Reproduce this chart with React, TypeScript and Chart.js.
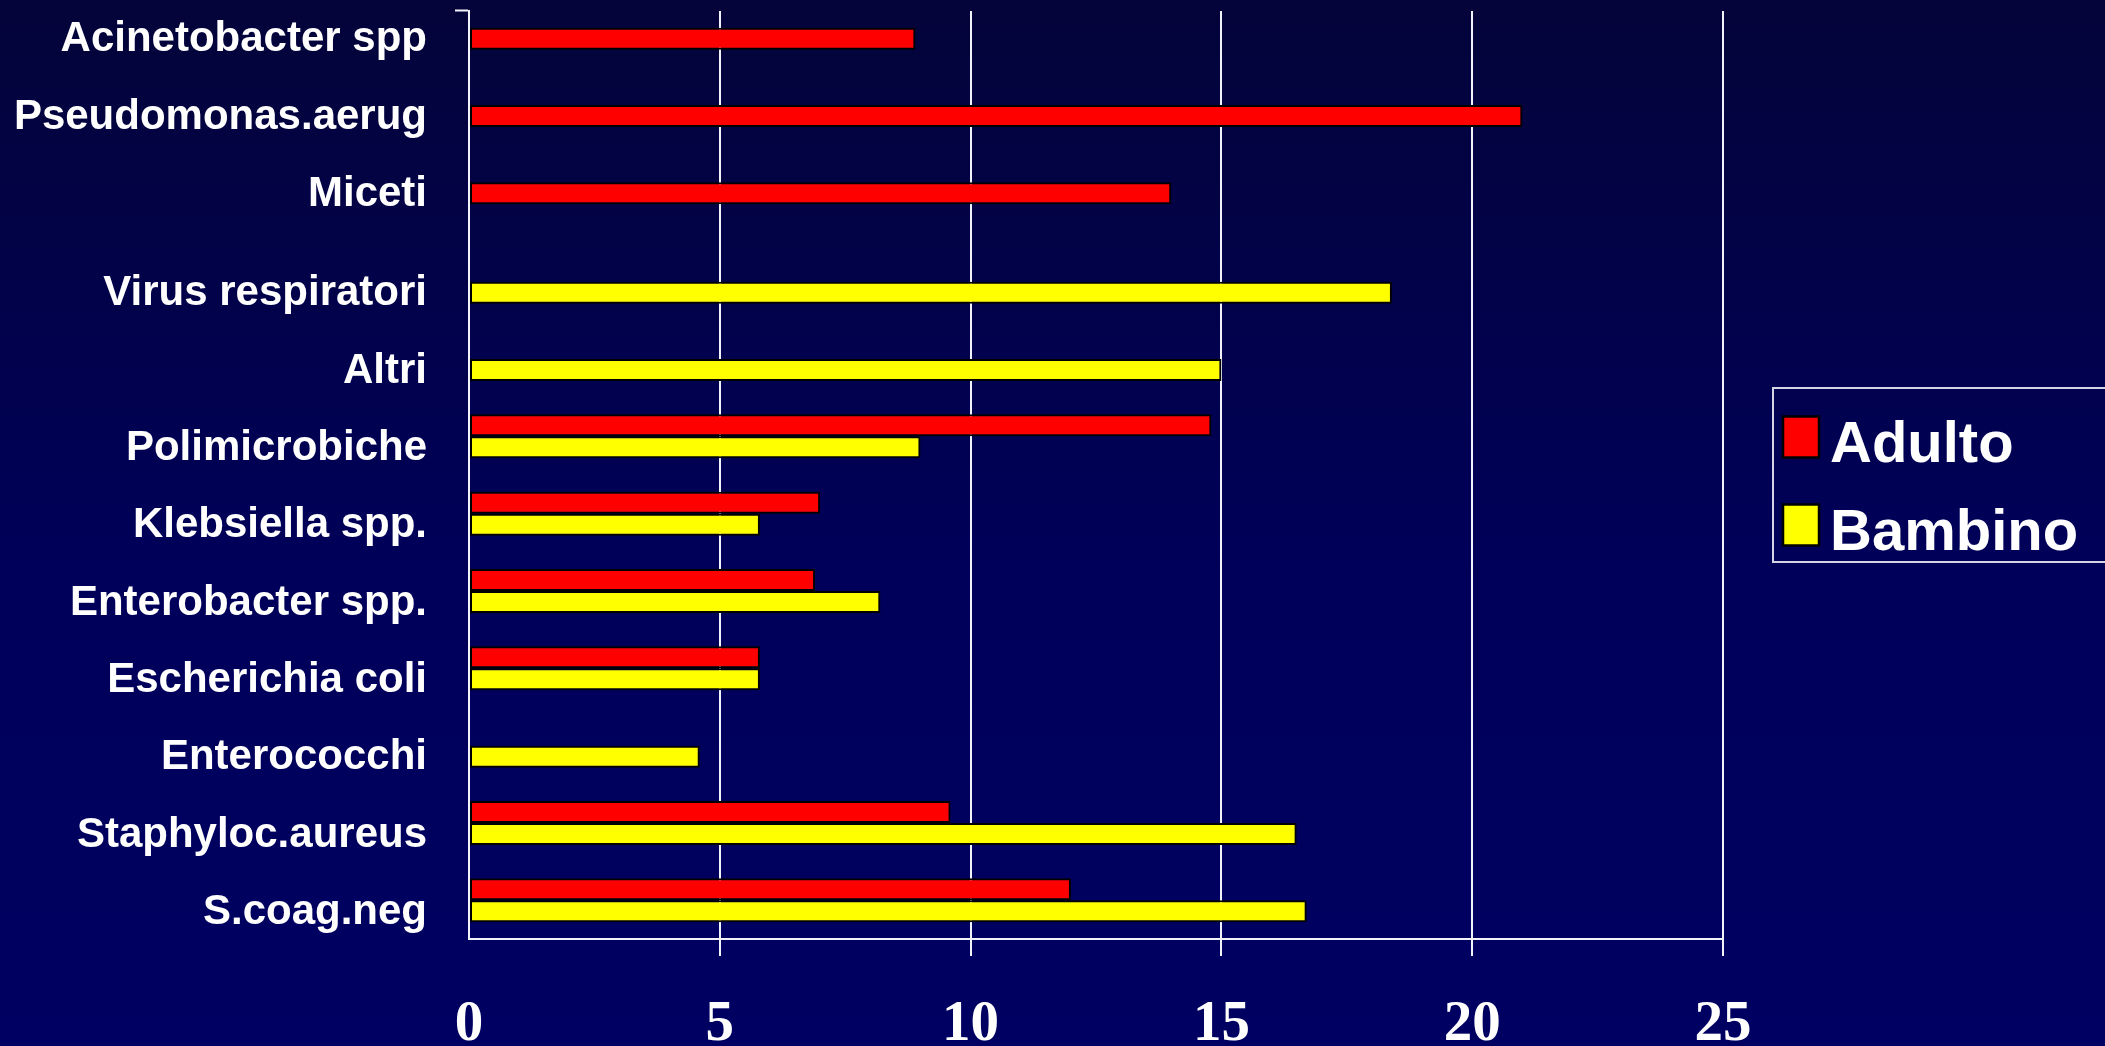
import React, { useEffect, useRef } from "react";
import { Chart, registerables } from "chart.js";

Chart.register(...registerables);

// Categories, listed top to bottom
const categories = [
  "Acinetobacter spp",
  "Pseudomonas.aerug",
  "Miceti",
  "Virus respiratori",
  "Altri",
  "Polimicrobiche",
  "Klebsiella spp.",
  "Enterobacter spp.",
  "Escherichia coli",
  "Enterococchi",
  "Staphyloc.aureus",
  "S.coag.neg",
];

const seriesNames = ["Adulto", "Bambino"];

const adulto: (number | null)[] = [8.9, 21, 14, null, null, 14.8, 7, 6.9, 5.8, null, 9.6, 12];
const bambino: (number | null)[] = [null, null, null, 18.4, 15, 9, 5.8, 8.2, 5.8, 4.6, 16.5, 16.7];

const xTicks = [0, 5, 10, 15, 20, 25];

const W = 2105;
const H = 1046;
const LABEL_FONT = '"Liberation Sans", Arial, sans-serif';
const TICK_FONT = '"Liberation Serif", "Times New Roman", serif';
const LINE_COLOR = "#f2f2fa";

// Navy gradient behind the whole canvas
const backgroundPlugin = {
  id: "slideBackground",
  beforeDraw(chart: Chart) {
    const { ctx, width, height } = chart;
    const g = ctx.createLinearGradient(0, 0, 0, height);
    g.addColorStop(0, "#04043a");
    g.addColorStop(0.55, "#00005a");
    g.addColorStop(1, "#000062");
    ctx.save();
    ctx.fillStyle = g;
    ctx.fillRect(0, 0, width, height);
    ctx.restore();
  },
};

// Category names, aligned with the Bambino bar (or the Adulto bar when it is alone)
const categoryLabelPlugin = {
  id: "categoryLabels",
  afterDatasetsDraw(chart: Chart) {
    const { ctx, chartArea } = chart;
    const metaA = chart.getDatasetMeta(0);
    const metaB = chart.getDatasetMeta(1);
    ctx.save();
    ctx.fillStyle = "#ffffff";
    ctx.font = `bold 42px ${LABEL_FONT}`;
    ctx.textAlign = "right";
    ctx.textBaseline = "middle";
    categories.forEach((name, i) => {
      const el: any = bambino[i] != null ? metaB.data[i] : metaA.data[i];
      if (!el) return;
      ctx.fillText(name, chartArea.left - 42, el.y + 1);
    });
    ctx.restore();
  },
};

// Boxed legend to the right of the plot
const legendBoxPlugin = {
  id: "legendBox",
  afterDraw(chart: Chart) {
    const { ctx, chartArea } = chart;
    const cy = (chartArea.top + chartArea.bottom) / 2;
    const left = chartArea.right + 50;
    const top = cy - 87;
    const h = 174;
    ctx.save();
    ctx.strokeStyle = "#d4d4e4";
    ctx.lineWidth = 2;
    ctx.strokeRect(left, top, chart.width - left + 10, h);
    chart.data.datasets.forEach((ds: any, i: number) => {
      const rowY = top + 49 + i * 88;
      ctx.fillStyle = ds.backgroundColor;
      ctx.fillRect(left + 10, rowY - 20.5, 36, 41);
      ctx.strokeStyle = "#000000";
      ctx.lineWidth = 2.5;
      ctx.strokeRect(left + 10, rowY - 20.5, 36, 41);
      ctx.fillStyle = "#ffffff";
      ctx.font = `bold 58px ${LABEL_FONT}`;
      ctx.textAlign = "left";
      ctx.textBaseline = "alphabetic";
      ctx.fillText(ds.label, left + 57, rowY + 25);
    });
    ctx.restore();
  },
};

export default function App() {
  const canvasRef = useRef<HTMLCanvasElement>(null);

  useEffect(() => {
    const canvas = canvasRef.current;
    if (!canvas) return;

    const chart = new Chart(canvas, {
      type: "bar",
      data: {
        labels: categories,
        datasets: [
          {
            label: seriesNames[0],
            data: adulto,
            backgroundColor: "#ff0000",
            borderColor: "#000000",
            borderWidth: 2,
            borderSkipped: false,
            barPercentage: 1,
            categoryPercentage: 0.57,
          },
          {
            label: seriesNames[1],
            data: bambino,
            backgroundColor: "#ffff00",
            borderColor: "#000000",
            borderWidth: 2,
            borderSkipped: false,
            barPercentage: 1,
            categoryPercentage: 0.57,
          },
        ],
      },
      options: {
        indexAxis: "y",
        responsive: false,
        animation: false,
        layout: { padding: { top: 11, right: 382, left: 0, bottom: 0 } },
        plugins: {
          legend: { display: false },
          tooltip: { enabled: false },
        },
        scales: {
          x: {
            type: "linear",
            position: "bottom",
            min: 0,
            max: 25,
            afterBuildTicks: (scale: any) => {
              scale.ticks = xTicks.map((value) => ({ value }));
            },
            afterFit: (scale: any) => {
              scale.height = 107;
            },
            ticks: {
              color: "#ffffff",
              padding: 41,
              maxRotation: 0,
              autoSkip: false,
              font: { family: TICK_FONT, size: 57, weight: "bold", lineHeight: 1 },
            },
            grid: {
              lineWidth: 2,
              tickLength: 17,
              drawTicks: true,
              color: (c: any) => (c.tick && c.tick.value === 0 ? "rgba(0,0,0,0)" : LINE_COLOR),
              tickColor: (c: any) => (c.tick && c.tick.value === 0 ? "rgba(0,0,0,0)" : LINE_COLOR),
            },
            border: { display: true, color: LINE_COLOR, width: 2, z: 1 },
          },
          y: {
            type: "category",
            offset: true,
            afterFit: (scale: any) => {
              scale.width = 469;
            },
            ticks: { display: false },
            grid: {
              offset: true,
              drawOnChartArea: false,
              drawTicks: true,
              tickLength: 14,
              tickWidth: 2,
              tickColor: (c: any) => (c.index === 0 ? LINE_COLOR : "rgba(0,0,0,0)"),
            },
            border: { display: true, color: LINE_COLOR, width: 2, z: 1 },
          },
        },
      } as any,
      plugins: [backgroundPlugin, categoryLabelPlugin, legendBoxPlugin],
    });

    return () => chart.destroy();
  }, []);

  return (
    <div style={{ position: "fixed", left: 0, top: 0, width: W, height: H, overflow: "hidden" }}>
      <canvas ref={canvasRef} width={W} height={H} style={{ display: "block" }} />
    </div>
  );
}
